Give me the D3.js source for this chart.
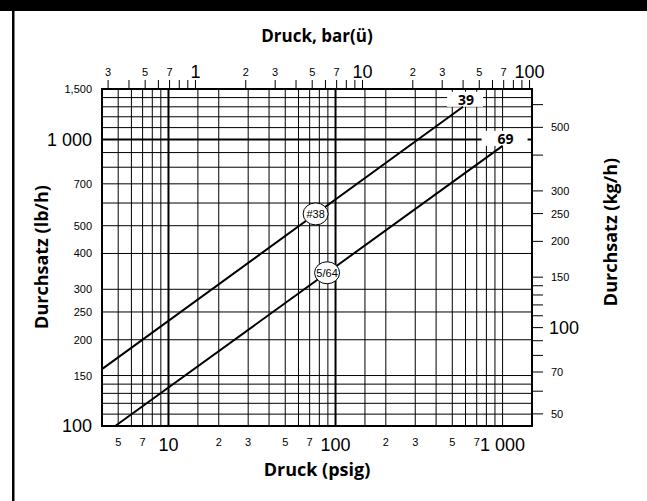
<!DOCTYPE html>
<html>
<head>
<meta charset="utf-8">
<script src="https://cdn.jsdelivr.net/npm/d3@7"></script>
<style>
  body { margin: 0; background: #fff; }
  text { fill: #000; }
</style>
</head>
<body>
<svg id="chart" width="647" height="501"></svg>
<script>
// grid + tick values
const psigGrid = [5, 6, 7, 8, 9, 10, 15, 20, 30, 40, 50, 60, 70, 80, 90, 100, 150, 200, 300, 400, 500, 600, 700, 800, 900, 1000];
const psigLabels = [5, 7, 10, 20, 30, 50, 70, 100, 200, 300, 500, 700, 1000];
const lbGrid = [110, 120, 130, 140, 150, 200, 250, 300, 400, 500, 600, 700, 800, 900, 1000, 1100, 1200, 1300, 1400];
const lbLabels = [100, 150, 200, 250, 300, 400, 500, 700, 1000, 1500];
const barTicks = [0.3, 0.4, 0.5, 0.6, 0.7, 0.8, 0.9, 1, 2, 3, 4, 5, 6, 7, 8, 9, 10, 20, 30, 40, 50, 60, 70, 80, 90, 100];
const barLabels = [0.3, 0.5, 0.7, 1, 2, 3, 5, 7, 10, 20, 30, 50, 70, 100];
const kgTicks = [50, 60, 70, 80, 90, 100, 110, 120, 130, 140, 150, 200, 250, 300, 400, 500, 600];
const kgLabels = [50, 70, 100, 150, 200, 250, 300, 500];

// the two orifice lines: [start, end] in psig and lb/h
const lineNames = ['39', '69'];
const lineTags = ['#38', '5/64'];
const linePsig = [[4, 580], [4.8, 1000]];
const lineFlow = [[158, 1300], [100, 950]];
const tagPsig = [76, 89];

const PSI_PER_BAR = 14.5038;
const KG_PER_LB = 0.45359;

const svg = d3.select('#chart');

// frame
svg.append('rect').attr('x', 0).attr('y', 0).attr('width', 647).attr('height', 11).attr('fill', '#000');
svg.append('rect').attr('x', 12).attr('y', 0).attr('width', 2.5).attr('height', 501).attr('fill', '#000');

const x = d3.scaleLog().domain([4, 1500]).range([102, 532]);
const y = d3.scaleLog().domain([100, 1500]).range([426, 89]);

const isDecade = v => Math.abs(Math.log10(v) - Math.round(Math.log10(v))) < 1e-9;
const leading = v => String(Math.round(v / Math.pow(10, Math.floor(Math.log10(v) + 1e-9))));

const grid = svg.append('g').attr('stroke', '#000').attr('stroke-width', 1);

grid.selectAll('line.v')
  .data(psigGrid)
  .enter()
  .append('line')
  .attr('x1', d => x(d)).attr('x2', d => x(d))
  .attr('y1', y.range()[0]).attr('y2', y.range()[1])
  .attr('stroke-width', d => (d === 10 || d === 100) ? 2 : 1);

grid.selectAll('line.h')
  .data(lbGrid)
  .enter()
  .append('line')
  .attr('x1', x.range()[0]).attr('x2', x.range()[1])
  .attr('y1', d => y(d)).attr('y2', d => y(d))
  .attr('stroke-width', d => d === 1000 ? 2 : 1);

// plot border
svg.append('rect')
  .attr('x', x.range()[0]).attr('y', y.range()[1])
  .attr('width', x.range()[1] - x.range()[0])
  .attr('height', y.range()[0] - y.range()[1])
  .attr('fill', 'none').attr('stroke', '#000').attr('stroke-width', 2);

// top ticks (bar)
const barX = b => x(b * PSI_PER_BAR);
svg.append('g').selectAll('line')
  .data(barTicks)
  .enter()
  .append('line')
  .attr('x1', barX).attr('x2', barX)
  .attr('y1', 80).attr('y2', 89)
  .attr('stroke', '#000').attr('stroke-width', 1);

svg.append('g').selectAll('text')
  .data(barLabels)
  .enter()
  .append('text')
  .attr('x', barX)
  .attr('y', d => isDecade(d) ? 78 : 76)
  .attr('text-anchor', 'middle')
  .style('font-family', '"Liberation Sans", Arial, sans-serif')
  .style('font-size', d => isDecade(d) ? '18px' : '11px')
  .text(d => isDecade(d) ? String(d) : leading(d));

// right ticks (kg/h)
const kgY = k => y(k / KG_PER_LB);
svg.append('g').selectAll('line')
  .data(kgTicks)
  .enter()
  .append('line')
  .attr('x1', 532).attr('x2', 543)
  .attr('y1', kgY).attr('y2', kgY)
  .attr('stroke', '#000').attr('stroke-width', 1);

svg.append('g').selectAll('text')
  .data(kgLabels)
  .enter()
  .append('text')
  .attr('x', d => d === 100 ? 549 : 551)
  .attr('y', kgY)
  .attr('dy', '0.36em')
  .style('font-family', '"Liberation Sans", Arial, sans-serif')
  .style('font-size', d => d === 100 ? '18px' : '11px')
  .text(d => d);

// left labels (lb/h)
const fmtLb = d => d === 1000 ? '1 000' : (d === 1500 ? '1,500' : String(d));
svg.append('g').selectAll('text')
  .data(lbLabels)
  .enter()
  .append('text')
  .attr('x', 92)
  .attr('y', d => y(d))
  .attr('dy', '0.36em')
  .attr('text-anchor', 'end')
  .style('font-family', '"Liberation Sans", Arial, sans-serif')
  .style('font-size', d => isDecade(d) ? '18px' : '11px')
  .text(fmtLb);

// bottom labels (psig)
svg.append('g').selectAll('text')
  .data(psigLabels)
  .enter()
  .append('text')
  .attr('x', d => x(d))
  .attr('y', d => isDecade(d) ? 451 : 446)
  .attr('text-anchor', 'middle')
  .style('font-family', '"Liberation Sans", Arial, sans-serif')
  .style('font-size', d => isDecade(d) ? '18px' : '11px')
  .text(d => isDecade(d) ? (d === 1000 ? '1 000' : String(d)) : leading(d));

// axis titles
const titleFont = '"Open Sans", "DejaVu Sans", sans-serif';
svg.append('text').attr('x', 317).attr('y', 42).attr('text-anchor', 'middle')
  .style('font-family', titleFont).style('font-weight', 700).style('font-size', '17px')
  .text('Druck, bar(ü)');
svg.append('text').attr('x', 317).attr('y', 476).attr('text-anchor', 'middle')
  .style('font-family', titleFont).style('font-weight', 700).style('font-size', '18px')
  .text('Druck (psig)');
svg.append('text').attr('transform', 'translate(48,257) rotate(-90)').attr('text-anchor', 'middle')
  .style('font-family', titleFont).style('font-weight', 700).style('font-size', '18px')
  .text('Durchsatz (lb/h)');
svg.append('text').attr('transform', 'translate(617,232) rotate(-90)').attr('text-anchor', 'middle')
  .style('font-family', titleFont).style('font-weight', 700).style('font-size', '18px')
  .text('Durchsatz (kg/h)');

// lines
const series = lineNames.map((name, i) => ({
  name,
  tag: lineTags[i],
  pts: linePsig[i].map((p, j) => [p, lineFlow[i][j]]),
  tagP: tagPsig[i]
}));

const flowAt = (s, p) => {
  const [[p0, f0], [p1, f1]] = s.pts;
  const k = Math.log(f1 / f0) / Math.log(p1 / p0);
  return f0 * Math.pow(p / p0, k);
};

const boxW = [36, 46];
series.forEach((s, i) => {
  const end = s.pts[1];
  const ex = x(end[0]), ey = y(end[1]);
  svg.append('rect')
    .attr('x', ex + 2 - boxW[i] / 2).attr('y', ey - 15)
    .attr('width', boxW[i]).attr('height', 15)
    .attr('fill', '#fff');
});

const line = d3.line().x(d => x(d[0])).y(d => y(d[1]));
svg.append('g').selectAll('path')
  .data(series)
  .enter()
  .append('path')
  .attr('d', d => line(d.pts))
  .attr('fill', 'none').attr('stroke', '#000').attr('stroke-width', 2);

series.forEach(s => {
  const end = s.pts[1];
  svg.append('text')
    .attr('x', x(end[0]) + 3).attr('y', y(end[1]) - 2)
    .attr('text-anchor', 'middle')
    .style('font-family', titleFont).style('font-weight', 700).style('font-size', '14px')
    .text(s.name);

  const cx = x(s.tagP), cy = y(flowAt(s, s.tagP));
  svg.append('ellipse')
    .attr('cx', cx).attr('cy', cy).attr('rx', 12.5).attr('ry', 11)
    .attr('fill', '#fff').attr('stroke', '#000').attr('stroke-width', 1);
  svg.append('text')
    .attr('x', cx).attr('y', cy).attr('dy', '0.36em')
    .attr('text-anchor', 'middle')
    .style('font-family', '"Liberation Sans Narrow", "Liberation Sans", Arial, sans-serif')
    .style('font-size', '11px')
    .text(s.tag);
});
</script>
</body>
</html>
